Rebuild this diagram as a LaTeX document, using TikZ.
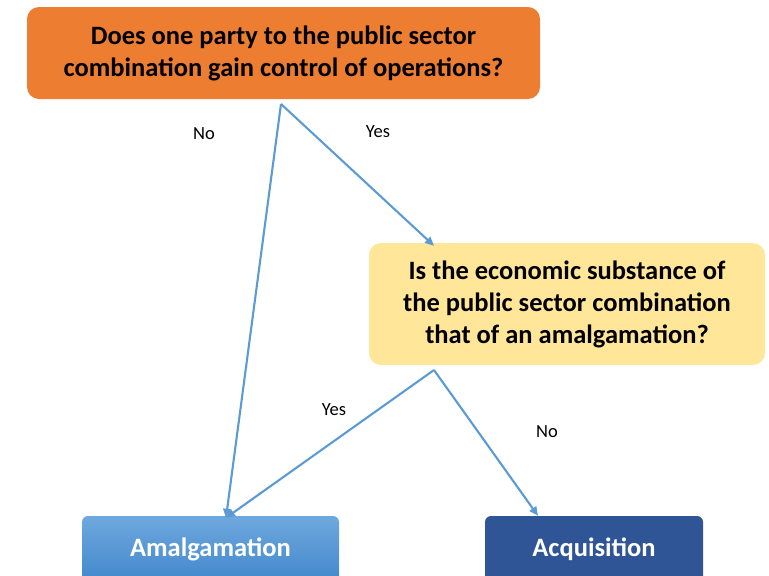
\documentclass[tikz,border=0pt]{standalone}
\usepackage{fontspec}
\setmainfont{Carlito}
\usetikzlibrary{arrows.meta}
\definecolor{qorange}{RGB}{237,125,49}
\definecolor{qyellow}{RGB}{255,230,153}
\definecolor{linkblue}{RGB}{91,155,213}
\definecolor{amalgtop}{RGB}{111,168,222}
\definecolor{amalgbot}{RGB}{66,136,204}
\definecolor{acqblue}{RGB}{47,85,151}

\begin{document}
\begin{tikzpicture}[x=1pt, y=-1pt,
  qbox/.style={rounded corners=12pt, font=\fontsize{26.5}{32}\selectfont\bfseries, align=center, inner sep=0pt},
  endbox/.style={rounded corners=6pt, font=\fontsize{26.5}{30}\selectfont\bfseries, text=white, inner sep=0pt, minimum height=66pt},
  link/.style={draw=linkblue, line width=2.1pt, -{Triangle[length=9pt, width=8pt]}},
  answer/.style={font=\fontsize{18.5}{22}\selectfont},
]
\clip (0,0) rectangle (769,576);

% === Questions ===
\node[qbox, fill=qorange, minimum width=513pt, minimum height=92pt] (q1) at (283.5,53)
  {Does one party to the public sector\\combination gain control of operations?};
\node[qbox, fill=qyellow, minimum width=396pt, minimum height=122pt] (q2) at (567,304)
  {Is the economic substance of\\the public sector combination\\that of an amalgamation?};

% === Outcomes ===
\node[endbox, top color=amalgtop, bottom color=amalgbot, minimum width=257pt] (amalg) at (210.5,549) {Amalgamation};
\node[endbox, fill=acqblue, minimum width=218pt] (acq) at (594,549) {Acquisition};

% Arrows
\coordinate (q1foot) at (281,104);
\coordinate (q2foot) at (434,370);
\draw[link] (q1foot) -- ([xshift=-133pt,yshift=-3pt]q2.north);
\draw[link] (q1foot) -- ([xshift=15.5pt,yshift=-2pt]amalg.north);
\draw[link] (q2foot) -- ([xshift=15.5pt,yshift=-2pt]amalg.north);
\draw[link] (q2foot) -- ([xshift=-56pt]acq.north);

% Labels
\node[answer] (no1) at (204,134) {No};
\node[answer] (yes1) at (378,132) {Yes};
\node[answer] (yes2) at (334,410) {Yes};
\node[answer] (no2) at (547,432) {No};
\end{tikzpicture}
\end{document}
